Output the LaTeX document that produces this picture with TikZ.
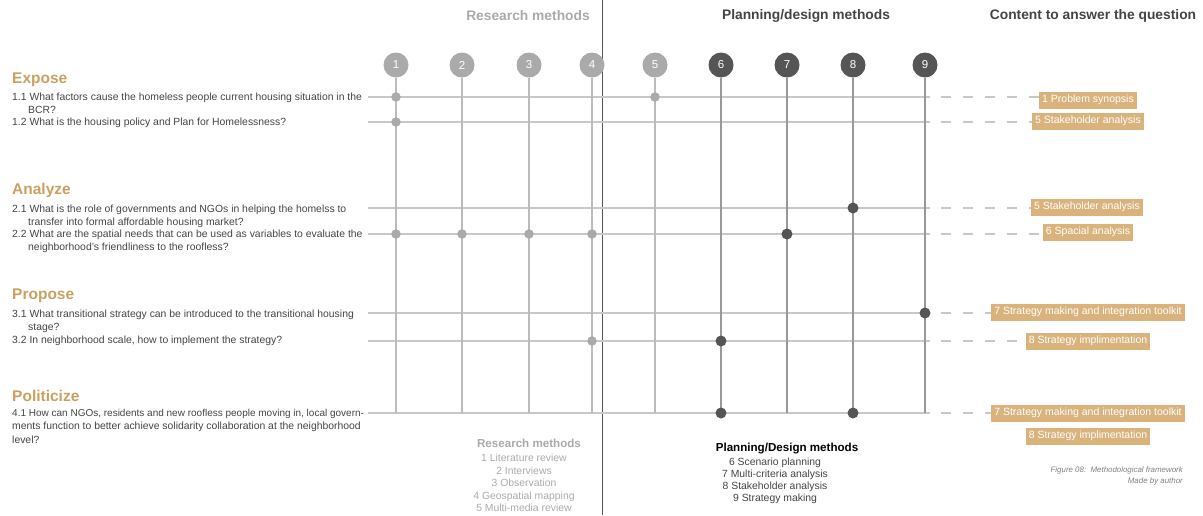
\documentclass[tikz,border=0pt]{standalone}
\usepackage{fontspec}
\setmainfont{Liberation Sans}
\definecolor{tan}{HTML}{D9B27C}
\definecolor{tandark}{HTML}{C9A062}
\definecolor{lgray}{HTML}{AAAAAA}
\definecolor{dgray}{HTML}{555555}
\definecolor{linegray}{HTML}{C8C8C8}
\definecolor{vlgray}{HTML}{BBBBBB}
\definecolor{vdgray}{HTML}{999999}
\definecolor{txt}{HTML}{444444}
\begin{document}
\begin{tikzpicture}[x=1pt,y=-1pt,
  q/.style={anchor=base west,inner sep=0pt,font=\fontsize{10.4}{12}\selectfont,text=txt},
  head/.style={anchor=west,inner sep=0pt,font=\fontsize{15.5}{17}\selectfont\bfseries,text=tandark},
  topH/.style={inner sep=0pt,font=\fontsize{13.8}{15}\selectfont\bfseries},
  rcirc/.style={circle,fill=lgray,minimum size=25pt,inner sep=0pt,text=white,font=\fontsize{11.5}{13}\selectfont},
  pcirc/.style={circle,fill=dgray,minimum size=25pt,inner sep=0pt,text=white,font=\fontsize{11.5}{13}\selectfont},
  rdot/.style={circle,fill=lgray,minimum size=9.5pt,inner sep=0pt},
  pdot/.style={circle,fill=dgray,minimum size=11pt,inner sep=0pt},
  hline/.style={draw=linegray,line width=1.3pt},
  vr/.style={draw=vlgray,line width=1.3pt},
  vp/.style={draw=vdgray,line width=1.2pt},
  dline/.style={draw=linegray,line width=1.3pt,dash pattern=on 10pt off 12pt},
  tbox/.style={fill=tan,text=white,inner xsep=3pt,inner ysep=0pt,minimum height=17pt,font=\fontsize{10.5}{12}\selectfont},
  leg/.style={anchor=base,inner sep=0pt,font=\fontsize{10.4}{12}\selectfont},
  captxt/.style={anchor=east,inner sep=0pt,font=\fontsize{7.9}{9}\selectfont\itshape,text=gray}
]
\useasboundingbox (0,0) rectangle (1203,515);
% divider
\coordinate (divT) at (602,0);
\coordinate (divB) at (602,515);
\draw[dgray,line width=0.9pt] (divT) -- (divB);
% top headers
\node[topH,text=lgray] (hR) at (528,16) {Research methods};
\node[topH,text=txt] (hP) at (806,16) {Planning/design methods};
\node[topH,text=txt] (hC) at (1093,16) {Content to answer the question};
% row coordinates
\foreach \n/\y in {11/97,12/122,21/208,22/234,31/313,32/341,41/413}{
  \coordinate (s\n) at (368,\y);
  \coordinate (e\n) at (930,\y);
  \coordinate (d\n) at (941,\y);
}
% horizontal lines
\foreach \n in {11,12,21,22,31,32,41}{ \draw[hline] (s\n) -- (e\n); }
% circles and verticals
\foreach \i/\x in {1/396,2/462,3/529,4/592,5/655}{
  \coordinate (b\i) at (\x,413);
  \node[rcirc] (c\i) at (\x,65) {\i};
  \draw[vr] (c\i) -- (b\i);
}
\foreach \i/\x in {6/721,7/787,8/853,9/925}{
  \coordinate (b\i) at (\x,413);
  \node[pcirc] (c\i) at (\x,65) {\i};
  \draw[vp] (c\i) -- (b\i);
}
% dots
\node[rdot] (x111) at (396,97) {};
\node[rdot] (x115) at (655,97) {};
\node[rdot] (x121) at (396,122) {};
\node[pdot] (x218) at (853,208) {};
\node[rdot] (x221) at (396,234) {};
\node[rdot] (x222) at (462,234) {};
\node[rdot] (x223) at (529,234) {};
\node[rdot] (x224) at (592,234) {};
\node[pdot] (x227) at (787,234) {};
\node[pdot] (x319) at (925,313) {};
\node[rdot] (x324) at (592,341) {};
\node[pdot] (x326) at (721,341) {};
\node[pdot] (x416) at (721,413) {};
\node[pdot] (x418) at (853,413) {};
% content boxes
\node[tbox] (t11) at (1088,100) {1 Problem synopsis};
\node[tbox] (t12) at (1088,121) {5 Stakeholder analysis};
\node[tbox] (t21) at (1087,207) {5 Stakeholder analysis};
\node[tbox] (t22) at (1088,232) {6 Spacial analysis};
\node[tbox] (t31) at (1088,312) {7 Strategy making and integration toolkit};
\node[tbox] (t32) at (1088,341) {8 Strategy implimentation};
\node[tbox] (t41) at (1088,413) {7 Strategy making and integration toolkit};
\node[tbox] (t42) at (1088,436) {8 Strategy implimentation};
\draw[dline] (d11) -- (d11 -| t11.west);
\draw[dline] (d12) -- (d12 -| t12.west);
\draw[dline] (d21) -- (d21 -| t21.west);
\draw[dline] (d22) -- (d22 -| t22.west);
\draw[dline] (d31) -- (d31 -| t31.west);
\draw[dline] (d32) -- (d32 -| t32.west);
\draw[dline] (d41) -- (d41 -| t41.west);
% left side text
\node[head] (hE) at (12,80) {Expose};
\node[q] (q11) at (12,100.5) {1.1 What factors cause the homeless people current housing situation in the};
\node[q] (q11b) at (28,113.5) {BCR?};
\node[q] (q12) at (12,125.5) {1.2 What is the housing policy and Plan for Homelessness?};
\node[head] (hA) at (12,190) {Analyze};
\node[q] (q21) at (12,212.5) {2.1 What is the role of governments and NGOs in helping the homelss to};
\node[q] (q21b) at (28,225.5) {transfer into formal affordable housing market?};
\node[q] (q22) at (12,237.5) {2.2 What are the spatial needs that can be used as variables to evaluate the};
\node[q] (q22b) at (28,250.5) {neighborhood's friendliness to the roofless?};
\node[head] (hPr) at (12,296) {Propose};
\node[q] (q31) at (12,317.5) {3.1 What transitional strategy can be introduced to the transitional housing};
\node[q] (q31b) at (28,330.5) {stage?};
\node[q] (q32) at (12,343.5) {3.2 In neighborhood scale, how to implement the strategy?};
\node[head] (hPo) at (12,396) {Politicize};
\node[q,font=\fontsize{10}{12}\selectfont] (q41) at (12,416.5) {4.1 How can NGOs, residents and new roofless people moving in, local govern-};
\node[q] (q41b) at (12,429.5) {ments function to better achieve solidarity collaboration at the neighborhood};
\node[q] (q41c) at (12,443.5) {level?};
% legends
\node[leg,font=\fontsize{11.6}{13}\selectfont\bfseries,text=lgray] (lR) at (529,447) {Research methods};
\node[leg,text=lgray] (lR1) at (524,461.5) {1 Literature review};
\node[leg,text=lgray] (lR2) at (524,474) {2 Interviews};
\node[leg,text=lgray] (lR3) at (524,486.5) {3 Observation};
\node[leg,text=lgray] (lR4) at (524,499) {4 Geospatial mapping};
\node[leg,text=lgray] (lR5) at (524,511.5) {5 Multi-media review};
\node[leg,font=\fontsize{11.6}{13}\selectfont\bfseries,text=black] (lP) at (787,451) {Planning/Design methods};
\node[leg,text=txt] (lP6) at (775,465.5) {6 Scenario planning};
\node[leg,text=txt] (lP7) at (775,477.5) {7 Multi-criteria analysis};
\node[leg,text=txt] (lP8) at (775,489.5) {8 Stakeholder analysis};
\node[leg,text=txt] (lP9) at (775,501.5) {9 Strategy making};
% caption
\node[captxt] (cap1) at (1183,470) {Figure 08:\ \ Methodological framework};
\node[captxt] (cap2) at (1183,481) {Made by author};
\end{tikzpicture}
\end{document}
